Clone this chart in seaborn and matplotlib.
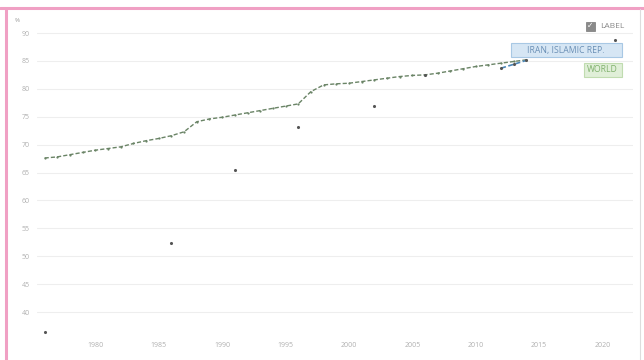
import numpy as np
import pandas as pd
import matplotlib.pyplot as plt
import seaborn as sns
from matplotlib.patches import Rectangle
from matplotlib.lines import Line2D

# literacy rate, adult total (%) - world line and Iran survey points
world_years = list(range(1976, 2015))
world_vals = [67.6, 67.8, 68.2, 68.6, 69.0, 69.3, 69.6, 70.2, 70.7, 71.1,
              71.6, 72.3, 74.1, 74.6, 74.9, 75.3, 75.7, 76.1, 76.5, 76.9,
              77.3, 79.5, 80.7, 80.9, 81.0, 81.3, 81.6, 81.9, 82.2, 82.4,
              82.5, 82.8, 83.2, 83.6, 84.0, 84.3, 84.6, 84.9, 85.2]
iran_years = [1976, 1986, 1991, 1996, 2002, 2006, 2012, 2013, 2014, 2021]
iran_vals = [36.5, 52.3, 65.5, 73.2, 77.0, 82.4, 83.7, 84.4, 85.1, 88.7]
y_ticks = [40, 45, 50, 55, 60, 65, 70, 75, 80, 85, 90]
x_ticks = [1980, 1985, 1990, 1995, 2000, 2005, 2010, 2015, 2020]

world = pd.DataFrame({"year": world_years, "value": world_vals})
iran = pd.DataFrame({"year": iran_years, "value": iran_vals})
# consecutive years are joined by a line
iran_run = iran[iran["year"].between(2012, 2014)]

sns.set_theme(style="white")
plt.rcParams['font.family'] = ['Open Sans', 'DejaVu Sans']

fig = plt.figure(figsize=(6.44, 3.60), dpi=100)
W, H = 644, 360
ax = fig.add_axes([37 / W, 1 - 336 / H, (633 - 37) / W, (336 - 28) / H])

sns.lineplot(data=world, x="year", y="value", ax=ax, color="#6a8466",
             linewidth=1.0, marker="o", markersize=1.6, markeredgewidth=0,
             dashes=(3, 1.5), zorder=3)
sns.lineplot(data=iran_run, x="year", y="value", ax=ax, color="#4a86b8",
             linewidth=1.2, dashes=(3, 1.5), zorder=4)
sns.scatterplot(data=iran, x="year", y="value", ax=ax, color="#555555",
                s=5, linewidth=0, zorder=5)

ax.set_xlim(1975.4, 2022.4)
ax.set_ylim(35.7, 90.9)
ax.set_yticks(y_ticks)
ax.set_xticks(x_ticks)
ax.set_xlabel("")
ax.set_ylabel("")
ax.grid(axis="y", color="#eeeeee", linewidth=0.8)
ax.set_axisbelow(True)
for s in ax.spines.values():
    s.set_visible(False)
ax.tick_params(axis="y", labelsize=5, colors="#b0b0b0", length=0, pad=5)
ax.tick_params(axis="x", labelsize=5, colors="#b0b0b0", length=2.5,
               direction="in", pad=4, width=0.5)

# labels at the end of the lines
ax.add_patch(Rectangle((2012.76, 85.7), 8.74, 2.5, fc="#d6e6f4", ec="#a8c8e4",
                       lw=0.8, zorder=6))
ax.text(2017.13, 86.95, "IRAN, ISLAMIC REP.", fontsize=6.2, color="#6a8fb5",
        ha="center", va="center", zorder=7)
ax.add_patch(Rectangle((2018.5, 82.15), 3.0, 2.5, fc="#e0efd8", ec="#c0dcb0",
                       lw=0.8, zorder=6))
ax.text(2020.0, 83.4, "WORLD", fontsize=6.2, color="#7fb06c",
        ha="center", va="center", zorder=7)

fig.text(17 / W, 1 - 21 / H, "%", fontsize=4.5, color="#999999",
         ha="center", va="center")

# LABEL checkbox
fig.patches.append(Rectangle((586 / W, 1 - 31 / H), 9 / W, 9 / H,
                             transform=fig.transFigure, fc="#8a8a8a",
                             ec="#777777", lw=0.5))
fig.text(590.5 / W, 1 - 26.5 / H, "\u2713", fontsize=5.5, color="white",
         ha="center", va="center")
fig.text(600 / W, 1 - 26 / H, "LABEL", fontsize=6, color="#888888",
         ha="left", va="center")

# frame of the page
fig.lines.append(Line2D([0, 1], [1 - 8 / H, 1 - 8 / H], transform=fig.transFigure,
                        color="#f0a0c4", lw=2.2))
fig.lines.append(Line2D([6 / W, 6 / W], [0, 1 - 8 / H], transform=fig.transFigure,
                        color="#f0a0c4", lw=2.2))
fig.lines.append(Line2D([640 / W, 640 / W], [0, 1 - 9 / H], transform=fig.transFigure,
                        color="#dddddd", lw=0.8))

fig.savefig("out.png", dpi=100)
